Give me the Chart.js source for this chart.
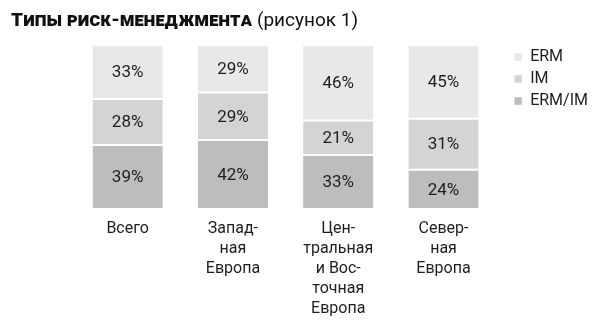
<!DOCTYPE html>
<html lang="ru">
<head>
<meta charset="utf-8">
<script src="https://cdn.jsdelivr.net/npm/chart.js@4.4.1/dist/chart.umd.min.js"></script>
<style>
  html, body { margin: 0; padding: 0; background: #fff; }
  #wrap { position: relative; width: 600px; height: 325px; }
  #title {
    position: absolute; left: 11px; top: 8px;
    font-family: Roboto, "DejaVu Sans", sans-serif; font-size: 19px; color: #111;
    white-space: nowrap;
  }
  #title b { font-weight: 900; font-variant: small-caps; letter-spacing: 0.2px; }
  canvas { position: absolute; left: 0; top: 0; }
</style>
</head>
<body>
<div id="wrap">
  <canvas id="c" width="600" height="325"></canvas>
  <div id="title"><b>Типы риск-менеджмента</b> (рисунок 1)</div>
</div>
<script>
// Regions (multi-line tick labels, hyphenated as printed)
const categories = [
  ["Всего"],
  ["Запад-", "ная", "Европа"],
  ["Цен-", "тральная", "и Вос-", "точная", "Европа"],
  ["Север-", "ная", "Европа"]
];
// Share of each risk-management type, %
const ermValues   = [33, 29, 46, 45];
const imValues    = [28, 29, 21, 31];
const ermImValues = [39, 42, 33, 24];

const FONT = 'Roboto, "DejaVu Sans", sans-serif';
const TEXT = '#1e1e1e';

// Writes the percentage in the middle of every bar segment
const segmentLabels = {
  id: 'segmentLabels',
  afterDatasetsDraw(chart) {
    const ctx = chart.ctx;
    ctx.save();
    ctx.font = '17px ' + FONT;
    ctx.fillStyle = TEXT;
    ctx.textAlign = 'center';
    ctx.textBaseline = 'middle';
    chart.data.datasets.forEach((ds, i) => {
      const meta = chart.getDatasetMeta(i);
      meta.data.forEach((bar, j) => {
        const y = (bar.y + bar.base) / 2;
        ctx.fillText(ds.data[j] + '%', bar.x, y + 1);
      });
    });
    ctx.restore();
  }
};

// Moves the legend block a little away from the plot and up to the top
const legendPlacement = {
  id: 'legendPlacement',
  afterLayout(chart) {
    const lg = chart.legend;
    const w = lg.width, h = lg.height;
    lg.left = chart.chartArea.right + 12;
    lg.right = lg.left + w;
    lg.top = 43;
    lg.bottom = lg.top + h;
  }
};

const seg = { top: 1, bottom: 1, left: 0, right: 0 };

new Chart(document.getElementById('c'), {
  type: 'bar',
  data: {
    labels: categories,
    datasets: [
      { label: 'ERM/IM', data: ermImValues, backgroundColor: '#bdbdbd' },
      { label: 'IM',     data: imValues,    backgroundColor: '#d4d4d4' },
      { label: 'ERM',    data: ermValues,   backgroundColor: '#e8e8e8' }
    ].map(d => Object.assign(d, {
      borderColor: '#ffffff', borderWidth: seg, borderSkipped: false,
      barPercentage: 1, categoryPercentage: 0.667
    }))
  },
  options: {
    responsive: false,
    animation: false,
    layout: { padding: { top: 45, left: 75, right: 14, bottom: 0 } },
    plugins: {
      title: { display: false },
      tooltip: { enabled: false },
      legend: {
        position: 'right',
        align: 'start',
        reverse: true,
        labels: {
          boxWidth: 8, boxHeight: 8, padding: 6,
          color: TEXT, font: { family: FONT, size: 16 }
        }
      }
    },
    scales: {
      x: {
        stacked: true,
        grid: { display: false },
        border: { display: false },
        ticks: {
          color: TEXT, padding: 2, maxRotation: 0, autoSkip: false,
          font: { family: FONT, size: 16, lineHeight: 1.25 }
        },
        afterFit(scale) { scale.height = 116; }
      },
      y: {
        stacked: true, min: 0, max: 100, display: false
      }
    }
  },
  plugins: [segmentLabels, legendPlacement]
});
</script>
</body>
</html>
